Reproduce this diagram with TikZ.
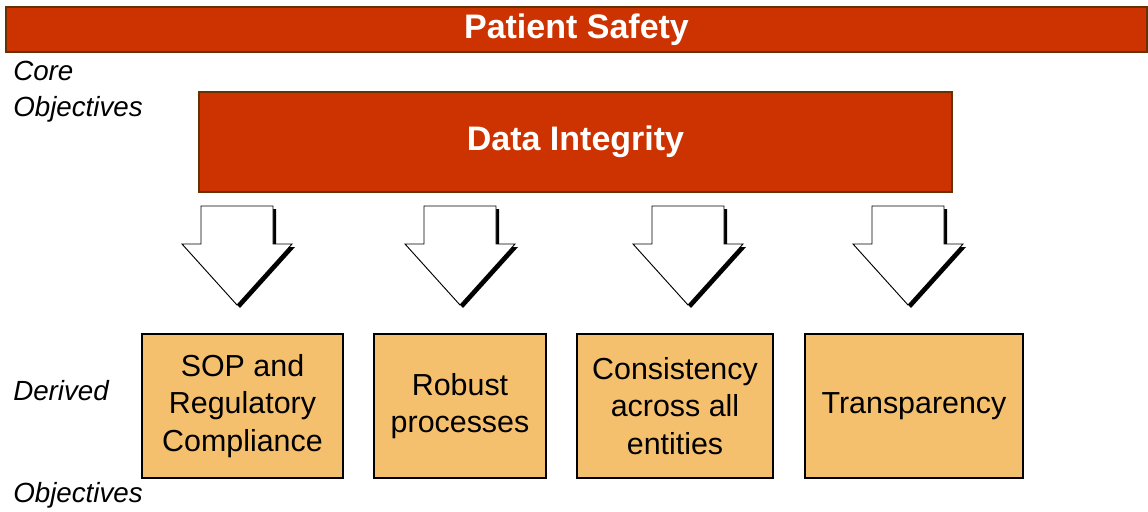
\documentclass[tikz,border=0pt]{standalone}
\usepackage{fontspec}
\setmainfont{Liberation Sans}
\definecolor{brick}{HTML}{CC3300}
\definecolor{brickline}{HTML}{663300}
\definecolor{sand}{HTML}{F5C06D}
\tikzset{
  corebox/.style={draw=brickline, line width=1.6pt, fill=brick, text=white,
    font=\fontsize{25.5}{30}\selectfont\bfseries, inner sep=0pt},
  derivedbox/.style={draw, line width=1.2pt, fill=sand, align=center,
    font=\fontsize{22.8}{28.2}\selectfont, inner sep=0pt},
  sidelabel/.style={anchor=base west, inner sep=0pt,
    font=\fontsize{20.8}{25}\selectfont\itshape},
  downarrow/.style={draw, line width=0.7pt, fill=white},
  arrowshadow/.style={fill=black, shift={(3,3)}}
}
\begin{document}
\begin{tikzpicture}[x=0.75pt, y=-0.75pt]
  \useasboundingbox (0,0) rectangle (1148,511);
  % core objectives
  \node[corebox, minimum width=855.75pt, minimum height=33.75pt] (safety) at (576.5,29.5) {Patient Safety};
  \node[corebox, minimum width=564.75pt, minimum height=75pt] (integrity) at (575.5,142) {Data Integrity};
  \node[sidelabel] (core) at (13,80) {Core};
  \node[sidelabel] (coreobj) at (13,116) {Objectives};
  % arrows
  \fill[arrowshadow] (201,206) -- (273,206) -- (273,244) -- (292,244) -- (237,305) -- (182,244) -- (201,244) -- cycle;
  \draw[downarrow] (201,206) -- (273,206) -- (273,244) -- (292,244) -- (237,305) -- (182,244) -- (201,244) -- cycle;
  \fill[arrowshadow] (424,206) -- (496,206) -- (496,244) -- (515,244) -- (460,305) -- (405,244) -- (424,244) -- cycle;
  \draw[downarrow] (424,206) -- (496,206) -- (496,244) -- (515,244) -- (460,305) -- (405,244) -- (424,244) -- cycle;
  \fill[arrowshadow] (652,206) -- (724,206) -- (724,244) -- (743,244) -- (688,305) -- (633,244) -- (652,244) -- cycle;
  \draw[downarrow] (652,206) -- (724,206) -- (724,244) -- (743,244) -- (688,305) -- (633,244) -- (652,244) -- cycle;
  \fill[arrowshadow] (872,206) -- (944,206) -- (944,244) -- (963,244) -- (908,305) -- (853,244) -- (872,244) -- cycle;
  \draw[downarrow] (872,206) -- (944,206) -- (944,244) -- (963,244) -- (908,305) -- (853,244) -- (872,244) -- cycle;
  % derived objectives
  \node[derivedbox, minimum width=150.75pt, minimum height=108pt] (sop) at (242.5,406) {SOP and\\Regulatory\\Compliance};
  \node[derivedbox, minimum width=129pt, minimum height=108pt] (robust) at (460,406) {Robust\\processes};
  \node[derivedbox, minimum width=147pt, minimum height=108pt] (consist) at (675,406) {Consistency\\across all\\entities};
  \node[derivedbox, minimum width=163.5pt, minimum height=108pt] (transp) at (914,406) {Transparency};
  \node[sidelabel] (derived) at (13,400) {Derived};
  \node[sidelabel] (derivedobj) at (13,502) {Objectives};
\end{tikzpicture}
\end{document}
